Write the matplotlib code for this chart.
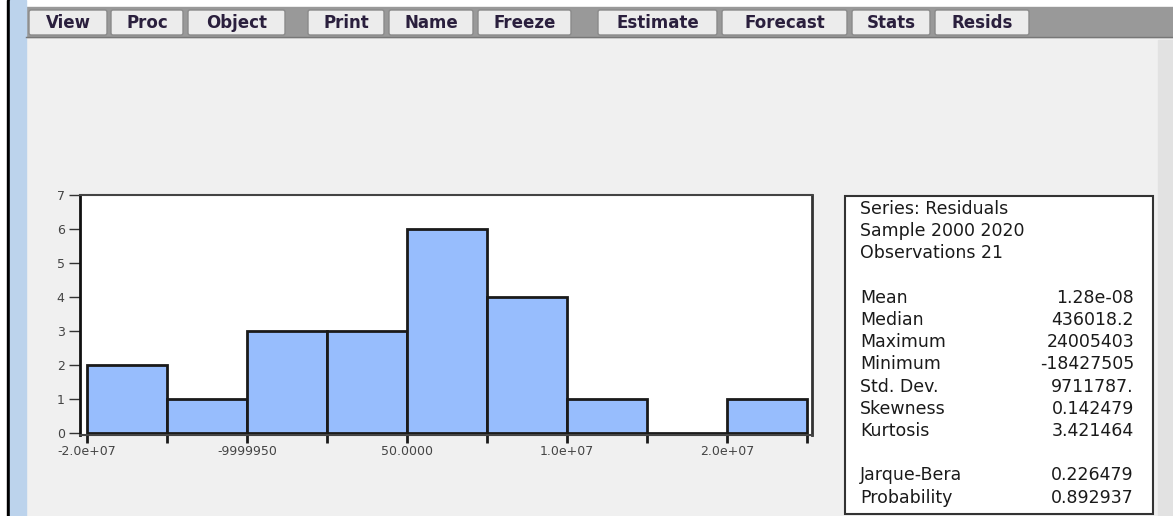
import matplotlib.pyplot as plt
from matplotlib.patches import Rectangle, FancyBboxPatch

# histogram of residuals
bin_edges = [-2.0e7, -1.5e7, -1.0e7, -0.5e7, 0.0, 0.5e7, 1.0e7, 1.5e7, 2.0e7, 2.5e7]
counts = [2, 1, 3, 3, 6, 4, 1, 0, 1]
tick_values = [-2.0e7, -1.0e7, 0.0, 1.0e7, 2.0e7]
tick_labels = ['-2.0e+07', '-9999950', '50.0000', '1.0e+07', '2.0e+07']

# stats panel
header_lines = ['Series: Residuals', 'Sample 2000 2020', 'Observations 21']
stat_names = ['Mean', 'Median', 'Maximum', 'Minimum', 'Std. Dev.', 'Skewness', 'Kurtosis']
stat_values = ['1.28e-08', '436018.2', '24005403', '-18427505', '9711787.', '0.142479', '3.421464']
test_names = ['Jarque-Bera', 'Probability']
test_values = ['0.226479', '0.892937']

# toolbar
buttons = ['View', 'Proc', 'Object', 'Print', 'Name', 'Freeze',
           'Estimate', 'Forecast', 'Stats', 'Resids']
button_spans = [(28, 108), (110, 184), (187, 286), (307, 385), (388, 474), (477, 572),
                (597, 718), (721, 848), (851, 931), (934, 1030)]

W, H = 1173, 516
fig = plt.figure(figsize=(W / 100, H / 100), dpi=100)
fig.patch.set_facecolor('#f0f0f0')

# window chrome drawn in pixel coordinates
ui = fig.add_axes([0, 0, 1, 1])
ui.set_xlim(0, W)
ui.set_ylim(H, 0)
ui.axis('off')
ui.add_patch(Rectangle((0, 0), W, H, color='#f0f0f0', zorder=0))
ui.add_patch(Rectangle((0, 0), W, 8, color='white', zorder=1))
ui.add_patch(Rectangle((0, 0), 8, H, color='white', zorder=1))
ui.add_patch(Rectangle((7, 0), 2.5, H, color='black', zorder=2))
ui.add_patch(Rectangle((10, 0), 16, H, color='#bcd3ec', zorder=2))
ui.add_patch(Rectangle((26, 7), W - 26, 30, color='#999999', zorder=1))
ui.plot([26, W], [37, 37], color='#777777', lw=1, zorder=2)
ui.add_patch(Rectangle((1158, 40), 15, H - 40, color='#e2e2e2', zorder=1))

for label, (x0, x1) in zip(buttons, button_spans):
    ui.add_patch(FancyBboxPatch((x0 + 1, 10), x1 - x0 - 2, 25,
                                boxstyle='round,pad=0,rounding_size=2',
                                fc='#ececec', ec='#8a8a8a', lw=1, zorder=3))
    ui.text((x0 + x1) / 2, 23, label, ha='center', va='center', fontsize=12,
            fontweight='bold', color='#2a1f3d', family='DejaVu Sans', zorder=4)

# stats box
ui.add_patch(Rectangle((845, 196), 308, 318, fc='white', ec='#333333', lw=1.5, zorder=3))
step = 22.2
y0 = 209
fs = 12.5
for i, line in enumerate(header_lines):
    ui.text(860, y0 + step * i, line, ha='left', va='center', fontsize=fs,
            color='#1a1a1a', family='DejaVu Sans', zorder=4)
for i, (n, v) in enumerate(zip(stat_names, stat_values)):
    y = y0 + step * (i + 4)
    ui.text(860, y, n, ha='left', va='center', fontsize=fs, color='#1a1a1a',
            family='DejaVu Sans', zorder=4)
    ui.text(1134, y, v, ha='right', va='center', fontsize=fs, color='#1a1a1a',
            family='DejaVu Sans', zorder=4)
for i, (n, v) in enumerate(zip(test_names, test_values)):
    y = y0 + step * (i + 12)
    ui.text(860, y, n, ha='left', va='center', fontsize=fs, color='#1a1a1a',
            family='DejaVu Sans', zorder=4)
    ui.text(1134, y, v, ha='right', va='center', fontsize=fs, color='#1a1a1a',
            family='DejaVu Sans', zorder=4)

# histogram axes
left, right, top, bottom = 80, 812, 195, 435
ax = fig.add_axes([left / W, 1 - bottom / H, (right - left) / W, (bottom - top) / H])
ax.set_facecolor('white')
widths = [b - a for a, b in zip(bin_edges[:-1], bin_edges[1:])]
ax.bar(bin_edges[:-1], counts, width=widths, align='edge', color='#97bdfd',
       edgecolor='#1a1a1a', linewidth=2, clip_on=False)
ax.set_xlim(-2.044e7, 2.53e7)
ax.set_ylim(-0.05, 7)
ax.set_yticks(range(0, 8))
ax.set_xticks(bin_edges)
ax.set_xticklabels([tick_labels[tick_values.index(e)] if e in tick_values else '' for e in bin_edges])
ax.tick_params(axis='x', direction='out', length=6, width=2, color='#1a1a1a',
               labelsize=9, labelcolor='#444444', pad=1)
ax.tick_params(axis='y', direction='out', length=8, width=1, color='#333333',
               labelsize=9, labelcolor='#444444', pad=3)
for lab in ax.get_xticklabels() + ax.get_yticklabels():
    lab.set_family('DejaVu Sans')
ax.spines['left'].set_linewidth(2)
ax.spines['left'].set_color('#111111')
ax.spines['right'].set_linewidth(2)
ax.spines['right'].set_color('#333333')
ax.spines['top'].set_linewidth(1.5)
ax.spines['top'].set_color('#444444')
ax.spines['bottom'].set_linewidth(1.5)
ax.spines['bottom'].set_color('#444444')

fig.savefig('out.png', dpi=100, facecolor=fig.get_facecolor())
